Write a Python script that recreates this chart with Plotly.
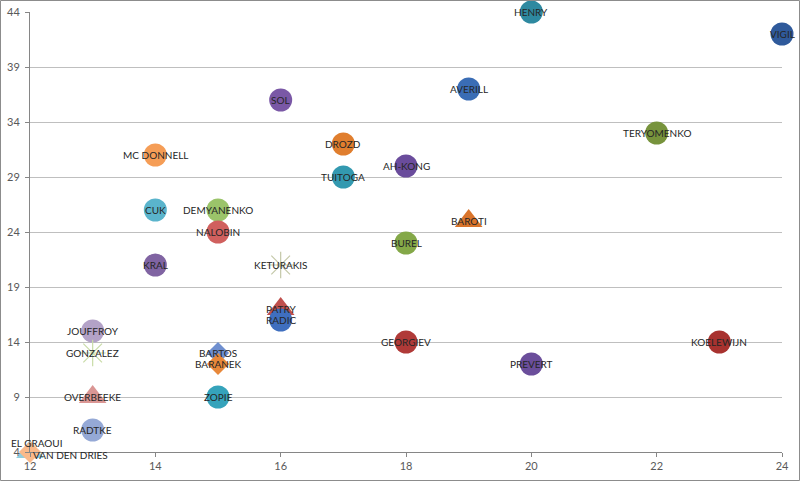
import plotly.graph_objects as go

# ---- data ----
names = ["HENRY", "VIGIL", "AVERILL", "SOL", "DROZD", "TERYOMENKO", "MC DONNELL",
         "AH-KONG", "TUITOGA", "CUK", "DEMYANENKO", "NALOBIN", "BAROTI", "BUREL",
         "KRAL", "KETURAKIS", "PATRY", "RADIC", "JOUFFROY", "GONZALEZ", "GEORGIEV",
         "KOELEWIJN", "BARTOS", "BARANEK", "PREVERT", "ZOPIE", "OVERBEEKE", "RADTKE",
         "VAN DEN DRIES", "EL GRAOUI"]
x_vals = [20, 24, 19, 16, 17, 22, 14,
          18, 17, 14, 15, 15, 19, 18,
          14, 16, 16, 16, 13, 13, 18,
          23, 15, 15, 20, 15, 13, 13,
          12, 12]
y_vals = [44, 42, 37, 36, 32, 33, 31,
          30, 29, 26, 26, 24, 25, 23,
          21, 21, 17, 16, 15, 13, 14,
          14, 13, 12, 12, 9, 9, 6,
          4, 4]
colors = ["#2E89A0", "#2F5A9B", "#3A6DB5", "#7A58A6", "#E07E2E", "#77933C", "#F59D56",
          "#6A4C9C", "#3399B0", "#5AB4CC", "#9BC46A", "#D0605E", "#D9742B", "#84A848",
          "#8064A2", "#C4C8A8", "#C0504D", "#3F6FBF", "#B3A2C7", "#C9DCA7", "#B03A38",
          "#A8322F", "#6F8FCF", "#E8883A", "#6B4E9B", "#35A3BB", "#DA9694", "#95A9D6",
          "#93CDDD", "#FAB98A"]
symbols = ["circle", "circle", "circle", "circle", "circle", "circle", "circle",
           "circle", "circle", "circle", "circle", "circle", "triangle-up", "circle",
           "circle", "asterisk-open", "triangle-up", "circle", "circle", "asterisk-open", "circle",
           "circle", "diamond", "diamond", "circle", "circle", "triangle-up", "circle",
           "triangle-up", "diamond"]

x_ticks = [12, 14, 16, 18, 20, 22, 24]
y_ticks = [4, 9, 14, 19, 24, 29, 34, 39, 44]

# label offsets in pixels (styling only)
label_shift = {"EL GRAOUI": (7, 9), "VAN DEN DRIES": (40, -3)}
symbol_size = {"circle": 23, "triangle-up": 24, "diamond": 17, "asterisk-open": 22}

fig = go.Figure()
for n, xv, yv, c, s in zip(names, x_vals, y_vals, colors, symbols):
    if s == "asterisk-open":
        marker = dict(symbol=s, size=symbol_size[s], color=c, line=dict(color=c, width=1.2))
    else:
        marker = dict(symbol=s, size=symbol_size[s], color=c, line=dict(width=0))
    fig.add_trace(go.Scatter(x=[xv], y=[yv], mode="markers", marker=marker,
                             name=n, cliponaxis=False, hoverinfo="text", text=[n]))

for n, xv, yv in zip(names, x_vals, y_vals):
    dx, dy = label_shift.get(n, (0, 0))
    fig.add_annotation(x=xv, y=yv, text=n, showarrow=False, xshift=dx, yshift=dy,
                       font=dict(family="Lato", size=10, color="#262626"))

W, H = 800, 481
ml, mr, mt, mb = 30, 18, 12, 29
pw, ph = W - ml - mr, H - mt - mb
fig.add_shape(type="rect", xref="paper", yref="paper",
              x0=-(ml - 0.5) / pw, x1=1 + (mr - 0.5) / pw,
              y0=-(mb - 0.5) / ph, y1=1 + (mt - 0.5) / ph,
              line=dict(color="#8C8C8C", width=1), layer="above")

fig.update_layout(
    width=W, height=H,
    margin=dict(l=ml, r=mr, t=mt, b=mb, autoexpand=False),
    plot_bgcolor="white", paper_bgcolor="white",
    showlegend=False,
    font=dict(family="Lato", size=11, color="#595959"),
)
fig.update_xaxes(range=[12, 24], tickvals=x_ticks, showgrid=False, zeroline=False,
                 automargin=False,
                 showline=True, linecolor="#868686", linewidth=1,
                 ticks="outside", ticklen=4, tickcolor="#868686",
                 tickfont=dict(family="Lato", size=11, color="#595959"))
fig.update_yaxes(range=[4, 44], tickvals=y_ticks, showgrid=True, gridcolor="#BFBFBF",
                 gridwidth=1, zeroline=False, automargin=False,
                 showline=True, linecolor="#868686", linewidth=1,
                 ticks="outside", ticklen=4, tickcolor="#868686",
                 ticklabelstandoff=3,
                 tickfont=dict(family="Lato", size=11, color="#595959"))

fig.write_html("out.html",
               config={"displayModeBar": False},
               post_script="document.body.style.margin='0';document.body.style.overflow='hidden';")
